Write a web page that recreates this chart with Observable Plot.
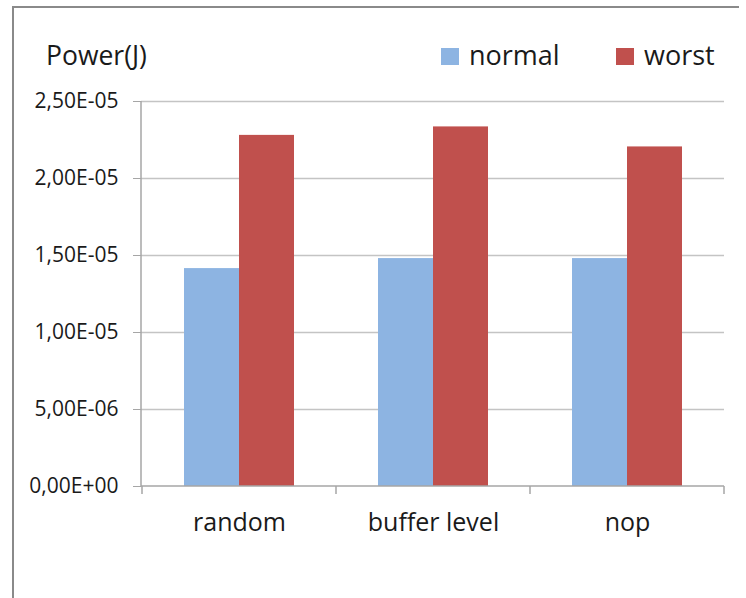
<!DOCTYPE html>
<html><head><meta charset="utf-8">
<script src="https://cdn.jsdelivr.net/npm/d3@7"></script>
<script src="https://cdn.jsdelivr.net/npm/@observablehq/plot@0.6"></script>
<style>
html,body{margin:0;padding:0;background:#fff;}
#chart{position:relative;width:746px;height:598px;overflow:hidden;font-family:"Open Sans",sans-serif;color:#1a1a1a;}
#chart svg{display:block;}
#border{position:absolute;left:12px;top:6px;width:727px;height:600px;border-left:2px solid #8a8a8a;border-top:2px solid #8a8a8a;box-sizing:border-box;pointer-events:none;}
</style></head><body><div id="chart"></div>
<script>
const categories = ["random", "buffer level", "nop"];
const seriesNames = ["normal", "worst"];
const normalValues = [1.415e-5, 1.48e-5, 1.48e-5];
const worstValues = [2.28e-5, 2.335e-5, 2.205e-5];
const seriesColors = ["#8DB4E2", "#C0504D"];
const yTicks = [0, 5e-6, 1e-5, 1.5e-5, 2e-5, 2.5e-5];
const yTickLabels = ["0,00E+00", "5,00E-06", "1,00E-05", "1,50E-05", "2,00E-05", "2,50E-05"];
const yTitle = "Power(J)";

const data = categories.flatMap((c, i) => [
  {category: c, series: seriesNames[0], value: normalValues[i]},
  {category: c, series: seriesNames[1], value: worstValues[i]}
]);

const chart = d3.select("#chart");

// Header: title + legend
const header = chart.append("svg").attr("width", 746).attr("height", 90)
  .style("font-family", '"Open Sans", sans-serif').attr("fill", "#1a1a1a");
header.append("text").attr("x", 46).attr("y", 65).attr("font-size", 26.5).text(yTitle);
const legendX = [441, 616];
seriesNames.forEach((s, i) => {
  header.append("rect").attr("x", legendX[i]).attr("y", 48).attr("width", 18).attr("height", 17).attr("fill", seriesColors[i]);
  header.append("text").attr("x", legendX[i] + 28).attr("y", 65).attr("font-size", 27).text(s);
});

function axisFrame(index, scales, values, dimensions) {
  const {width, height, marginLeft, marginRight, marginTop, marginBottom} = dimensions;
  const x0 = marginLeft, x1 = width - marginRight, yb = height - marginBottom;
  const g = d3.create("svg:g").attr("stroke", "#a6a6a6").attr("fill", "none").attr("stroke-width", 1.5);
  g.append("line").attr("x1", x0).attr("x2", x0).attr("y1", marginTop).attr("y2", yb);
  g.append("line").attr("x1", x0).attr("x2", x1).attr("y1", yb).attr("y2", yb);
  const bounds = categories.map(c => scales.x(c)).concat([x1]);
  bounds.forEach(b => g.append("line").attr("x1", b).attr("x2", b).attr("y1", yb).attr("y2", yb + 8));
  return g.node();
}

const plot = Plot.plot({
  width: 746, height: 508,
  marginLeft: 141, marginRight: 22, marginTop: 11, marginBottom: 112,
  style: {fontFamily: '"Open Sans", sans-serif', fontSize: "20px", color: "#1a1a1a", background: "transparent", overflow: "visible"},
  x: {domain: categories, padding: 0, label: null},
  y: {domain: [0, 2.5e-5], label: null},
  marks: [
    Plot.ruleY(yTicks.slice(1), {stroke: "#c4c4c4", strokeWidth: 1.5}),
    Plot.barY(data.filter(d => d.series === seriesNames[0]), {x: "category", y: "value", fill: seriesColors[0], insetLeft: 42, insetRight: 97}),
    Plot.barY(data.filter(d => d.series === seriesNames[1]), {x: "category", y: "value", fill: seriesColors[1], insetLeft: 97, insetRight: 42}),
    axisFrame,
    Plot.axisY({ticks: yTicks, tickFormat: d => yTickLabels[yTicks.indexOf(d)], tickSize: 8, tickPadding: 15, fontSize: 21, label: null, stroke: "#a6a6a6", color: "#1a1a1a"}),
    Plot.axisX({tickSize: 0, tickPadding: 27, fontSize: 25, label: null, color: "#1a1a1a"})
  ]
});
chart.node().appendChild(plot);
chart.append("div").attr("id", "border");
</script></body></html>
